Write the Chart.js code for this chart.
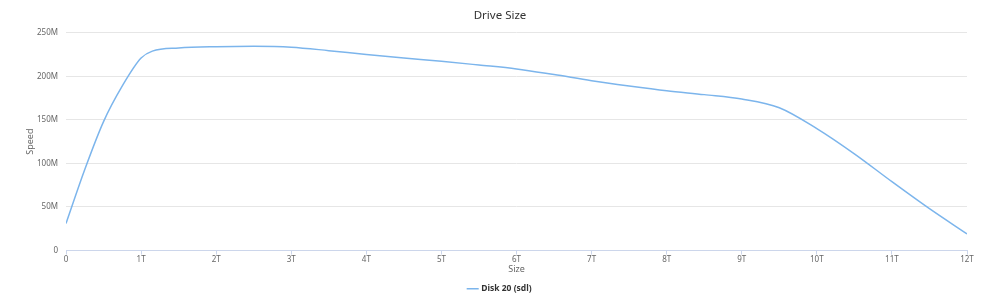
<!DOCTYPE html>
<html>
<head>
<meta charset="utf-8">
<script src="https://cdn.jsdelivr.net/npm/chart.js@4"></script>
<style>
  html, body { margin: 0; padding: 0; background: #fff; }
  #wrap { width: 1000px; height: 301px; }
</style>
</head>
<body>
<div id="wrap"><canvas id="chart"></canvas></div>
<script>
// ===== DATA =====
const sizesT = [0, 0.25, 0.5, 0.75, 1, 1.15, 1.5, 2, 2.5, 3, 3.5, 4, 4.5, 5, 5.5, 6, 6.5, 7, 7.5, 8, 8.5, 9, 9.5, 10, 10.5, 11, 11.5, 12];
const speedM = [31, 93, 148, 189, 221, 229, 232.5, 234, 234.5, 233.5, 229.5, 225, 221, 217.3, 213, 208.5, 202, 195, 189, 183.5, 179, 174, 164, 140, 111, 79, 48, 19];
const seriesName = 'Disk 20 (sdl)';
const FONT = 'Noto Sans, DejaVu Sans, sans-serif';

const points = sizesT.map((x, i) => ({ x: x, y: speedM[i] }));

new Chart(document.getElementById('chart'), {
  type: 'line',
  data: {
    datasets: [{
      label: seriesName,
      data: points,
      borderColor: '#7cb5ec',
      backgroundColor: '#7cb5ec',
      borderWidth: 1.5,
      pointRadius: 0,
      cubicInterpolationMode: 'monotone',
    }]
  },
  options: {
    responsive: true,
    maintainAspectRatio: false,
    animation: false,
    layout: { padding: { left: 0, right: 0, top: 0, bottom: -2 } },
    plugins: {
      title: {
        display: true,
        text: 'Drive Size',
        color: '#333',
        font: { family: FONT, size: 11.5, weight: 'normal' },
        padding: { top: 9, bottom: 10 },
      },
      legend: {
        position: 'bottom',
        labels: {
          usePointStyle: true,
          pointStyle: 'line',
          boxWidth: 12,
          color: '#333',
          font: { family: FONT, size: 8.5, weight: 'bold' },
          padding: 10,
        }
      },
      tooltip: { enabled: false },
    },
    scales: {
      x: {
        type: 'linear',
        min: 0,
        max: 12,
        afterFit: (scale) => { scale.height = 24; },
        ticks: {
          stepSize: 1,
          color: '#666',
          font: { family: FONT, size: 8 },
          maxRotation: 0,
          padding: 0,
          callback: v => v === 0 ? '0' : v + 'T',
        },
        grid: { drawOnChartArea: false, drawTicks: true, tickLength: 4, color: '#ccd6eb' },
        border: { display: true, color: '#ccd6eb' },
        title: { display: true, text: 'Size', color: '#666', font: { family: FONT, size: 9 }, padding: { top: 2, bottom: 0 } },
      },
      y: {
        min: 0,
        max: 250,
        afterFit: (scale) => { scale.width = 66; },
        ticks: {
          stepSize: 50,
          color: '#666',
          font: { family: FONT, size: 8 },
          padding: 8,
          callback: v => v === 0 ? '0' : v + 'M',
        },
        grid: { color: '#e6e6e6', drawTicks: false },
        border: { display: false },
        title: { display: true, text: 'Speed', color: '#666', font: { family: FONT, size: 9 }, padding: { top: 25, bottom: 0 } },
      },
      // empty right margin so the title and legend centre on the full width
      yRight: {
        position: 'right',
        min: 0,
        max: 250,
        afterFit: (scale) => { scale.width = 33; },
        ticks: { display: false },
        grid: { display: false },
        border: { display: false },
      }
    }
  }
});
</script>
</body>
</html>
